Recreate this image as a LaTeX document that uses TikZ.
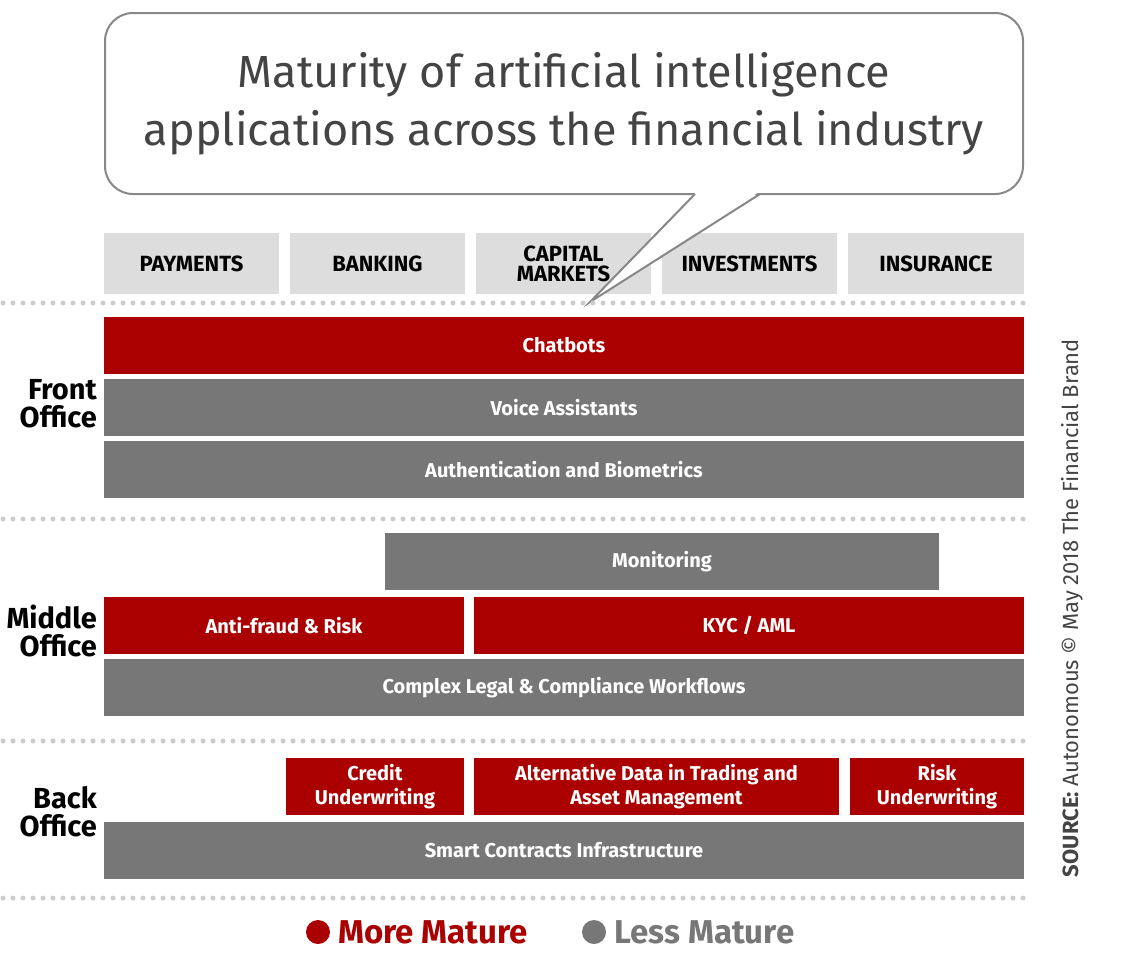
\documentclass[tikz,border=0pt]{standalone}
\usepackage{fontspec}
\setmainfont{Fira Sans}
\usetikzlibrary{positioning}
\definecolor{maturered}{RGB}{170,0,0}
\definecolor{lessgray}{RGB}{119,119,119}
\definecolor{catgray}{RGB}{221,221,221}
\definecolor{dotgray}{RGB}{204,204,204}
\definecolor{titlegray}{RGB}{68,68,68}
\definecolor{bubbleline}{RGB}{136,136,136}

\begin{document}
\begin{tikzpicture}[x=1pt,y=-1pt,
  bar/.style={minimum height=57pt, inner sep=0pt, text=white, font=\fontsize{20}{24}\selectfont\bfseries, align=center},
  mature/.style={bar, fill=maturered},
  lessmature/.style={bar, fill=lessgray},
  cat/.style={fill=catgray, minimum width=175pt, minimum height=61pt, inner sep=0pt, font=\fontsize{22}{20}\selectfont\bfseries, align=center},
  office/.style={anchor=east, inner sep=0pt, align=right, font=\fontsize{29}{28}\selectfont\bfseries},
  dotrow/.style={dotgray, line width=5pt, line cap=round, dash pattern=on 0pt off 10pt},
  legend/.style={font=\fontsize{33}{33}\selectfont\bfseries, inner sep=0pt}]
\useasboundingbox (0,0) rectangle (1130,962);

% Title bubble
\node[draw=bubbleline, line width=2pt, rounded corners=28pt, fill=white, minimum width=918pt, minimum height=181pt, inner sep=0pt, align=center, text=titlegray, font=\fontsize{45}{58}\selectfont] (title) at (564,103.5) {Maturity of artificial intelligence\\applications across the financial industry};

% Industry columns
\node[cat] (payments) at (191.5,263.5) {PAYMENTS};
\node[cat] (banking) at (377.5,263.5) {BANKING};
\node[cat] (capital) at (563.5,263.5) {CAPITAL\\MARKETS};
\node[cat] (investments) at (749.5,263.5) {INVESTMENTS};
\node[cat, minimum width=176pt] (insurance) at (936,263.5) {INSURANCE};

% Bubble tail
\coordinate (tailtip) at (590,302);
\fill[white] (696,192) -- (tailtip) -- (759,192) -- cycle;
\draw[bubbleline, line width=2pt] (695,194) -- (tailtip) -- (760,194);

% Dotted separators
\draw[dotrow] (3,303) -- (1024,303);
\draw[dotrow] (3,519) -- (1024,519);
\draw[dotrow] (3,741) -- (1024,741);
\draw[dotrow] (3,898) -- (1024,898);

% Front office
\node[mature, minimum width=920pt] (chatbots) at (564,345.5) {Chatbots};
\node[lessmature, minimum width=920pt] (voice) at (564,407.5) {Voice Assistants};
\node[lessmature, minimum width=920pt] (auth) at (564,469.5) {Authentication and Biometrics};
\node[office] (front) at (97,404) {Front\\Office};

% Middle office
\node[lessmature, minimum width=554pt] (monitoring) at (662,561.5) {Monitoring};
\node[mature, minimum width=360pt] (antifraud) at (284,625.5) {Anti-fraud \& Risk};
\node[mature, minimum width=550pt] (kyc) at (749,625.5) {KYC / AML};
\node[lessmature, minimum width=920pt] (legal) at (564,687.5) {Complex Legal \& Compliance Workflows};
\node[office] (middle) at (97,631) {Middle\\Office};

% Back office
\node[mature, minimum width=178pt] (credit) at (375,786.5) {Credit\\Underwriting};
\node[mature, minimum width=365pt] (altdata) at (656.5,786.5) {Alternative Data in Trading and\\Asset Management};
\node[mature, minimum width=174pt] (risk) at (937,786.5) {Risk\\Underwriting};
\node[lessmature, minimum width=920pt] (smart) at (564,850.5) {Smart Contracts Infrastructure};
\node[office] (back) at (97,812) {Back\\Office};

% Legend
\node[circle, fill=maturered, minimum size=24pt, inner sep=0pt] (reddot) at (318,932) {};
\node[legend, text=maturered, anchor=west, right=8pt of reddot] (moretext) {More Mature};
\node[circle, fill=lessgray, minimum size=24pt, inner sep=0pt] (graydot) at (594,932) {};
\node[legend, text=lessgray, anchor=west, right=8pt of graydot] (lesstext) {Less Mature};

% Source
\node[rotate=90, inner sep=0pt, text=titlegray, font=\fontsize{22}{22}\selectfont] (source) at (1072,608) {\textbf{SOURCE:} Autonomous © May 2018 The Financial Brand};
\end{tikzpicture}
\end{document}
